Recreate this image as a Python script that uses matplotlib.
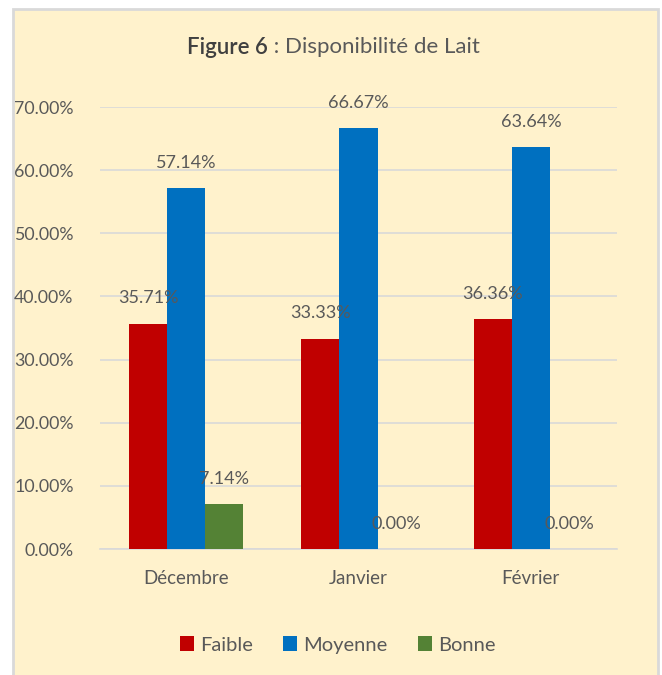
import matplotlib.pyplot as plt
import numpy as np
from matplotlib.patches import Rectangle

# data
months = ["Décembre", "Janvier", "Février"]
faible = [35.71, 33.33, 36.36]
moyenne = [57.14, 66.67, 63.64]
bonne = [7.14, 0.00, 0.00]

series = [("Faible", faible, "#C00000"),
          ("Moyenne", moyenne, "#0070C0"),
          ("Bonne", bonne, "#548235")]

plt.rcParams['font.family'] = ['Lato', 'DejaVu Sans']
txt = "#595959"

fig = plt.figure(figsize=(6.62, 6.75), dpi=100, facecolor="white")
# chart area frame, kept behind the axes
fig.patches.append(Rectangle((13/662, -0.01), 645/662, 1 - 9/675 + 0.01,
                             transform=fig.transFigure, facecolor="#FFF2CC",
                             edgecolor="#D9D9D9", linewidth=2, zorder=-10))

ax = fig.add_axes([100/662, 1 - 549/675, 517/662, 442/675])
ax.set_facecolor("none")
ax.set_zorder(1)

x = np.arange(len(months))
w = 0.221
for i, (name, vals, col) in enumerate(series):
    pos = x + (i - 1) * w
    ax.bar(pos, vals, width=w, color=col, label=name, zorder=3)
    for px, v in zip(pos, vals):
        ax.text(px, v + 2.7, f"{v:.2f}%", ha="center", va="bottom",
                fontsize=13, color=txt, zorder=4)

ax.set_xlim(-0.5, 2.5)
ax.set_ylim(0, 70)
ax.set_yticks(np.arange(0, 71, 10))
ax.set_yticklabels([f"{v:.2f}%" for v in np.arange(0, 71, 10)])
ax.set_xticks(x)
ax.set_xticklabels(months)
ax.tick_params(length=0, labelcolor=txt)
ax.tick_params(axis="y", pad=19, labelsize=12.8)
ax.tick_params(axis="x", pad=15, labelsize=13.5)
ax.grid(axis="y", color="#D9D9D9", linewidth=1.2, zorder=0)
ax.set_axisbelow(True)
for s in ["top", "right", "left"]:
    ax.spines[s].set_visible(False)
ax.spines["bottom"].set_color("#D9D9D9")
ax.spines["bottom"].set_linewidth(1.2)

fig.text(268/662, 1 - 47/675, "Figure 6", ha="right", va="center",
         fontsize=16, color="#404040", fontweight="semibold")
fig.text(268/662, 1 - 47/675, " : Disponibilité de Lait", ha="left", va="center",
         fontsize=16, color=txt)

fig.legend(loc="center", bbox_to_anchor=(0.51, 1 - 645/675), ncol=3,
           frameon=False, fontsize=14.5, labelcolor=txt, handlelength=0.7,
           handleheight=0.7, handletextpad=0.3, columnspacing=1.5)

fig.savefig("out.png", dpi=100, facecolor="white")
